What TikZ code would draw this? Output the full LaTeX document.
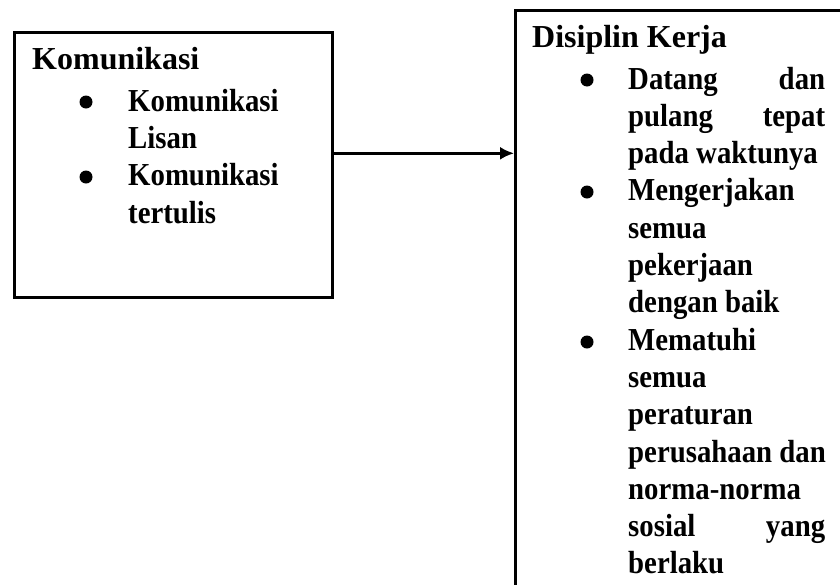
\documentclass[tikz,border=0pt]{standalone}
\usepackage{fontspec}
\setmainfont{Liberation Serif}
\newfontfamily\itemfont[FakeStretch=0.9]{Liberation Serif}
\usetikzlibrary{arrows.meta,calc}
\newcommand\jline[2]{\hbox to 197pt{#1\hfill #2}}
\begin{document}
\begin{tikzpicture}[x=1pt,y=-1pt,
  boxframe/.style={draw, line width=2.6pt, rectangle, inner sep=0pt},
  head/.style={font=\fontsize{32}{37}\selectfont\bfseries, inner sep=0pt, anchor=base west},
  txt/.style={font=\itemfont\fontsize{32}{37}\selectfont\bfseries, inner sep=0pt, anchor=base west},
  dot/.style={circle, fill, inner sep=0pt, minimum size=13pt}]
\useasboundingbox (0,0) rectangle (840,584);
\fill[white] (0,0) rectangle (840,584);
% left box
\node[boxframe, minimum width=318pt, minimum height=265pt, anchor=north west] (kom) at (13,31) {};
\node[head] (kh) at (32,69) {Komunikasi};
\node[dot] (kb1) at (86,102) {};
\node[dot] (kb2) at (86,177) {};
\node[txt] (k1) at (128,111) {Komunikasi};
\node[txt] (k2) at (128,148.3) {Lisan};
\node[txt] (k3) at (128,185.6) {Komunikasi};
\node[txt] (k4) at (128,223) {tertulis};
% right box
\begin{scope}
\clip (0,0) rectangle (840,584);
\node[boxframe, minimum width=340pt, minimum height=600pt, anchor=north west] (dis) at (514,9) {};
\end{scope}
\node[head] (dh) at (532,47) {Disiplin Kerja};
\node[dot] (db1) at (587,80) {};
\node[dot] (db2) at (587,192) {};
\node[dot] (db3) at (587,342) {};
\foreach \t [count=\k from 0] in {{\jline{Datang}{dan}},{\jline{pulang}{tepat}},pada waktunya,Mengerjakan,semua,pekerjaan,dengan baik,Mematuhi,semua,peraturan,perusahaan dan,norma-norma,{\jline{sosial}{yang}},berlaku}
  \node[txt] (r\k) at (628,{89+37.3*\k}) {\t};
% connector
\coordinate (a0) at ($(kom.east)+(0,-11.5)$);
\draw[line width=2.4pt, -{Latex[length=14pt,width=13pt]}] (a0) -- (a0 -| dis.west);
\end{tikzpicture}
\end{document}
